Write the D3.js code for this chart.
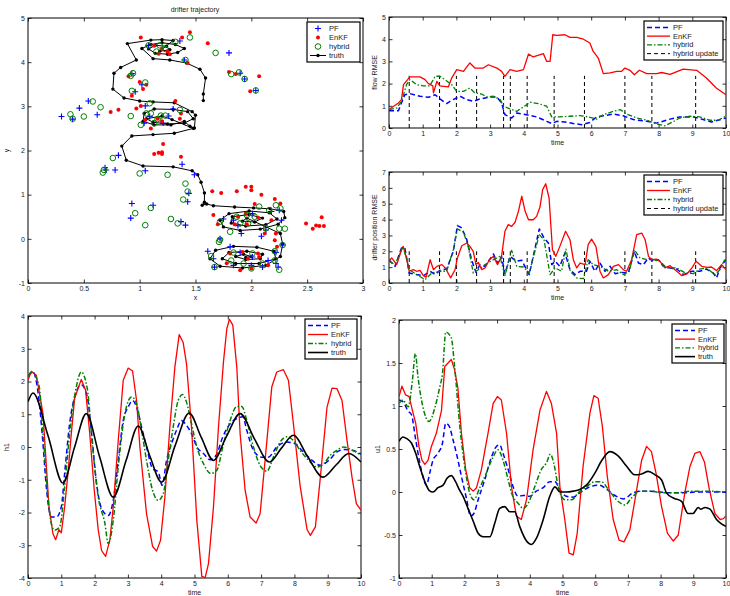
<!DOCTYPE html>
<html>
<head>
<meta charset="utf-8">
<script src="https://cdn.jsdelivr.net/npm/d3@7"></script>
<style>
  body { margin: 0; background: #fff; }
  svg { display: block; }
  text { font-family: "Liberation Sans", Arial, sans-serif; fill: #222; }
</style>
</head>
<body>
<div id="root"></div>
<script>
const width = 730
const height = 596

// ---- drifter trajectory (x, y) ----
const trajTruth = [
  [1.57, 3.13], [1.57, 3.28], [1.59, 3.64], [1.54, 3.84], [1.42, 3.98], [1.27, 4.05], [1.12, 4.08],
  [1.02, 4.31], [1.10, 4.40], [1.20, 4.44], [1.32, 4.40], [1.40, 4.31], [1.34, 4.22], [1.25, 4.18],
  [1.14, 4.20], [1.08, 4.30], [1.14, 4.38], [1.24, 4.36], [1.27, 4.28], [1.18, 4.25], [1.30, 4.49],
  [1.20, 4.51], [1.10, 4.50], [0.89, 4.42], [0.97, 4.05], [0.83, 3.88], [0.77, 3.75], [0.76, 3.39],
  [0.86, 3.19], [1.00, 3.12], [1.12, 3.10], [1.31, 3.08], [1.47, 2.88], [1.50, 2.80], [1.49, 2.51],
  [1.45, 2.55], [1.40, 2.66], [1.28, 2.58], [1.13, 2.58], [1.03, 2.66], [1.04, 2.84], [1.13, 2.94],
  [1.30, 2.93], [1.43, 2.88], [1.48, 2.72], [1.40, 2.62], [1.25, 2.60], [1.12, 2.64], [1.06, 2.72],
  [1.20, 2.78], [1.29, 2.70], [1.48, 2.50], [1.31, 2.39], [1.12, 2.36], [0.93, 2.33], [0.84, 2.10],
  [0.88, 1.78], [1.03, 1.65], [1.30, 1.63], [1.47, 1.54], [1.52, 1.45], [1.55, 1.28], [1.58, 1.04],
  [1.58, 0.83], [1.56, 0.76], [1.60, 0.79], [1.66, 0.75], [1.85, 0.72], [2.02, 0.70], [2.17, 0.68],
  [2.29, 0.62], [2.30, 0.48], [2.24, 0.33], [2.08, 0.22], [1.90, 0.19], [1.75, 0.27], [1.72, 0.42],
  [1.80, 0.57], [1.98, 0.63], [2.16, 0.59], [2.23, 0.45], [2.13, 0.32], [1.95, 0.29], [1.82, 0.36],
  [1.83, 0.50], [1.98, 0.55], [2.10, 0.47], [2.03, 0.38], [1.92, 0.40], [1.96, 0.47], [2.26, 0.12],
  [2.28, -0.12], [2.26, -0.40], [2.13, -0.60], [1.92, -0.66], [1.72, -0.62], [1.63, -0.45], [1.68, -0.26],
  [1.84, -0.17], [2.05, -0.19], [2.20, -0.28], [2.22, -0.45], [2.07, -0.56], [1.86, -0.56], [1.74, -0.45],
  [1.80, -0.31], [1.96, -0.28], [2.10, -0.35], [2.08, -0.45], [1.95, -0.47], [1.86, -0.40], [1.93, -0.35],
  [2.00, -0.40], [1.95, -0.42]
]
const trajPF = [
  [0.30, 2.77], [0.46, 2.96], [0.54, 3.12], [0.40, 2.71], [0.62, 2.81], [0.96, 3.33], [1.02, 3.49],
  [0.93, 3.74], [1.08, 4.38], [1.36, 4.48], [1.80, 4.21], [1.90, 3.75], [1.94, 3.62], [2.04, 3.36],
  [1.40, 4.05], [1.05, 3.01], [1.09, 2.77], [1.21, 2.62], [1.30, 2.94], [1.26, 2.78], [1.04, 2.62],
  [0.81, 1.89], [0.69, 1.61], [0.70, 1.56], [0.78, 1.56], [1.05, 1.54], [1.38, 1.69], [1.49, 1.45],
  [1.44, 1.03], [1.43, 0.84], [0.93, 0.80], [0.92, 0.47], [1.12, 0.76], [1.37, 0.39], [1.41, 0.31],
  [1.72, 0.00], [1.61, -0.28], [1.66, -0.45], [1.67, -0.64], [1.84, -0.60], [2.00, -0.60], [2.10, -0.64],
  [2.22, -0.56], [2.24, -0.64], [2.22, -0.31], [2.28, -0.14], [2.09, 0.06], [2.13, 0.20], [2.27, 0.42],
  [2.25, 0.65], [2.01, 0.57], [1.84, 0.42], [1.91, 0.12], [1.81, -0.18], [2.01, -0.41], [1.90, -0.31],
  [2.15, -0.49], [1.75, 0.45], [2.18, 0.62], [1.88, 0.30]
]
const trajEnKF = [
  [1.01, 4.56], [1.45, 4.68], [1.38, 4.56], [1.61, 4.43], [1.13, 4.37], [1.20, 4.30], [1.25, 4.24],
  [1.27, 4.18], [1.17, 4.19], [1.43, 3.98], [1.80, 3.78], [1.86, 3.73], [2.07, 3.68], [1.99, 3.34],
  [0.90, 3.68], [1.00, 3.55], [1.03, 3.39], [1.06, 3.49], [0.93, 3.24], [1.32, 3.12], [0.74, 2.87],
  [0.81, 2.92], [0.97, 2.95], [1.01, 3.01], [1.05, 2.69], [1.10, 2.50], [1.16, 2.72], [1.20, 2.66],
  [1.37, 2.84], [1.36, 2.72], [1.21, 2.15], [1.13, 1.92], [1.17, 1.95], [1.20, 1.96], [1.20, 1.92],
  [1.37, 1.86], [1.65, 1.08], [1.73, 1.04], [1.87, 1.08], [1.95, 1.18], [2.00, 1.18], [2.00, 1.10],
  [2.09, 1.00], [2.21, 0.90], [2.26, 0.80], [2.03, 0.79], [1.66, 0.54], [1.70, 0.33], [1.85, 0.33],
  [1.96, 0.33], [2.06, 0.48], [2.18, 0.42], [2.49, 0.35], [2.55, 0.23], [2.58, 0.30], [2.61, 0.29],
  [2.63, 0.49], [2.65, 0.29], [1.90, -0.71], [2.00, -0.67], [2.21, -0.03], [2.23, -0.18], [2.06, -0.33],
  [2.07, -0.41], [1.81, -0.33], [1.97, -0.45], [1.88, 0.50], [1.95, 0.57], [2.12, 0.12], [2.22, 0.12],
  [1.78, -0.55], [2.15, -0.60], [1.92, -0.30]
]
const trajHybrid = [
  [0.38, 2.82], [0.40, 2.72], [0.50, 2.77], [0.58, 3.11], [0.65, 2.98], [0.92, 2.78], [0.93, 3.35],
  [0.92, 3.69], [0.94, 3.75], [1.05, 3.54], [1.08, 4.38], [1.18, 4.38], [1.15, 4.24], [1.23, 4.30],
  [1.32, 4.46], [1.45, 4.56], [1.68, 4.21], [1.82, 3.73], [1.89, 3.77], [1.94, 3.62], [2.04, 3.36],
  [1.41, 4.05], [1.09, 3.07], [1.06, 2.84], [1.10, 2.84], [1.01, 2.58], [1.13, 2.62], [1.16, 2.71],
  [1.19, 2.79], [1.23, 2.79], [1.36, 2.92], [0.76, 1.83], [0.68, 1.56], [0.67, 1.50], [1.00, 1.48],
  [1.25, 1.45], [1.41, 1.25], [1.43, 1.07], [1.39, 0.89], [0.96, 0.58], [1.10, 0.70], [1.05, 0.31],
  [1.28, 0.45], [1.34, 0.35], [1.72, -0.02], [1.71, -0.07], [1.64, -0.39], [1.67, -0.64], [1.82, -0.49],
  [1.93, -0.56], [2.00, -0.67], [2.10, -0.56], [2.25, -0.70], [2.21, -0.49], [2.21, -0.28], [2.28, -0.14],
  [2.13, 0.24], [2.25, 0.23], [2.30, 0.23], [2.22, 0.76], [2.26, 0.69], [2.16, 0.65], [2.07, 0.73],
  [1.96, 0.54], [2.03, 0.50], [1.87, 0.50], [1.81, 0.16], [1.72, 0.39], [1.90, 0.35], [1.97, 0.35],
  [1.84, -0.31], [2.01, -0.33]
]

// ---- flow RMSE (time, value) ----
const flowEnKF = [
  [0, 0.83], [0.28, 1.13], [0.37, 1.28], [0.43, 1.95], [0.62, 2.30], [0.92, 2.30], [1.07, 2.18],
  [1.17, 2.0], [1.30, 1.9], [1.32, 1.58], [1.42, 2.1], [1.51, 1.9], [1.76, 1.85], [1.86, 2.25],
  [2.01, 2.63], [2.21, 2.55], [2.40, 2.93], [2.55, 2.70], [2.80, 2.70], [2.95, 2.85], [3.20, 2.70],
  [3.34, 2.55], [3.44, 2.33], [3.59, 2.63], [3.79, 2.55], [3.99, 2.63], [4.14, 3.33], [4.28, 3.20],
  [4.58, 3.35], [4.68, 3.0], [4.78, 3.0], [4.86, 4.20], [4.98, 4.17], [5.22, 4.20], [5.37, 4.08],
  [5.57, 4.08], [5.77, 4.0], [5.96, 3.83], [6.06, 3.45], [6.21, 3.15], [6.36, 2.45], [6.56, 2.48],
  [6.76, 2.55], [6.90, 2.55], [7.0, 2.7], [7.15, 2.6], [7.28, 2.4], [7.43, 2.6], [7.65, 2.45],
  [7.94, 2.45], [8.09, 2.5], [8.34, 2.42], [8.73, 2.65], [9.13, 2.6], [9.42, 2.25], [9.71, 1.8], [10, 1.5]
]
const flowPF = [
  [0, 0.78], [0.28, 0.78], [0.37, 1.13], [0.47, 1.50], [0.62, 1.55], [0.92, 1.43], [1.17, 1.38],
  [1.37, 1.50], [1.51, 1.31], [1.71, 1.10], [1.90, 1.28], [2.11, 1.43], [2.30, 1.28], [2.50, 1.20],
  [2.70, 1.31], [3.0, 1.40], [3.20, 1.40], [3.34, 1.13], [3.44, 0.60], [3.64, 0.45], [3.79, 0.68],
  [4.08, 0.60], [4.38, 0.50], [4.68, 0.30], [4.83, 0.20], [4.98, 0.30], [5.22, 0.27], [5.47, 0.20],
  [5.72, 0.15], [5.96, 0.25], [6.16, 0.50], [6.36, 0.55], [6.66, 0.63], [6.95, 0.55], [7.25, 0.38],
  [7.65, 0.30], [7.94, 0.22], [8.34, 0.40], [8.63, 0.50], [9.03, 0.50], [9.32, 0.38], [9.57, 0.27], [10, 0.45]
]
const flowHybrid = [
  [0, 0.83], [0.23, 0.9], [0.37, 1.2], [0.52, 1.95], [0.62, 2.18], [0.82, 1.95], [1.01, 1.9],
  [1.21, 1.9], [1.37, 2.33], [1.51, 2.33], [1.66, 2.18], [1.86, 1.95], [2.01, 1.65], [2.21, 1.65],
  [2.40, 1.80], [2.55, 1.58], [2.75, 1.53], [2.90, 1.40], [3.10, 1.43], [3.30, 1.28], [3.40, 0.98],
  [3.59, 0.86], [3.79, 0.75], [3.99, 0.95], [4.19, 1.16], [4.43, 1.10], [4.68, 0.98], [4.83, 0.50],
  [5.07, 0.50], [5.37, 0.53], [5.67, 0.56], [5.91, 0.50], [6.16, 0.40], [6.36, 0.60], [6.66, 0.75],
  [6.86, 0.83], [7.05, 0.63], [7.35, 0.45], [7.65, 0.35], [7.94, 0.18], [8.19, 0.10], [8.39, 0.25],
  [8.63, 0.45], [8.93, 0.53], [9.22, 0.50], [9.52, 0.35], [9.76, 0.35], [10, 0.53]
]
const updateTimes = [0.6, 1.5, 2.0, 2.6, 3.4, 3.6, 4.1, 4.9, 5.8, 7.0, 7.8, 9.1]
const updateTopFlow = 2.35
const updateTopDrift = 2.0

// ---- drifter position RMSE ----
const driftEnKF = [
  [0, 1.37], [0.08, 1.58], [0.23, 1.16], [0.37, 2.10], [0.42, 2.31], [0.52, 1.58], [0.60, 0.74],
  [0.72, 0.84], [0.82, 0.74], [0.92, 0.80], [1.02, 0.46], [1.10, 0.36], [1.22, 1.47], [1.32, 0.84],
  [1.42, 1.05], [1.57, 1.16], [1.67, 0.95], [1.83, 0.32], [1.96, 0.84], [2.03, 1.58], [2.16, 2.35],
  [2.31, 2.52], [2.40, 2.31], [2.50, 2.0], [2.58, 1.16], [2.65, 1.30], [2.75, 0.84], [2.85, 0.95],
  [2.98, 1.47], [3.10, 1.68], [3.22, 1.16], [3.34, 1.68], [3.44, 3.26], [3.54, 3.68], [3.64, 3.57],
  [3.74, 3.83], [3.84, 4.52], [3.94, 5.47], [4.04, 4.52], [4.14, 3.99], [4.28, 3.99], [4.38, 4.20],
  [4.48, 4.79], [4.56, 5.89], [4.65, 6.26], [4.75, 5.36], [4.85, 2.10], [4.95, 1.68], [5.07, 2.31],
  [5.24, 3.26], [5.37, 2.73], [5.47, 1.47], [5.57, 0.95], [5.67, 1.26], [5.82, 1.16], [5.91, 2.42],
  [6.01, 2.77], [6.14, 2.31], [6.26, 0.74], [6.36, 0.32], [6.51, 0.53], [6.66, 1.05], [6.81, 1.16],
  [6.95, 0.84], [7.05, 0.74], [7.20, 1.47], [7.35, 3.05], [7.50, 3.15], [7.60, 2.73], [7.70, 1.68],
  [7.80, 1.47], [7.94, 1.51], [8.04, 1.37], [8.19, 0.95], [8.34, 1.09], [8.54, 0.74], [8.69, 0.46],
  [8.84, 0.57], [8.99, 0.95], [9.11, 1.37], [9.28, 1.05], [9.45, 0.99], [9.57, 1.01], [9.72, 0.78],
  [9.87, 1.16], [10, 0.84]
]
const driftPF = [
  [0, 1.47], [0.18, 1.05], [0.37, 2.21], [0.47, 2.21], [0.60, 0.63], [0.82, 0.53], [1.02, 0.46],
  [1.22, 0.74], [1.37, 0.53], [1.51, 0.80], [1.71, 0.88], [1.91, 2.0], [2.03, 3.62], [2.16, 3.47],
  [2.31, 2.73], [2.45, 1.47], [2.58, 0.67], [2.70, 1.16], [2.85, 1.05], [3.10, 1.83], [3.22, 1.26],
  [3.34, 1.68], [3.44, 0.57], [3.59, 1.68], [3.79, 1.37], [3.94, 1.43], [4.08, 0.84], [4.16, 0.53],
  [4.28, 1.68], [4.46, 3.41], [4.60, 2.84], [4.73, 2.52], [4.83, 1.16], [4.93, 1.37], [5.07, 1.05],
  [5.22, 1.89], [5.37, 0.84], [5.52, 0.53], [5.67, 0.74], [5.86, 0.74], [5.96, 1.37], [6.11, 0.74],
  [6.26, 1.26], [6.41, 0.74], [6.56, 1.05], [6.71, 0.59], [6.90, 0.67], [7.10, 0.63], [7.28, 2.0],
  [7.40, 1.26], [7.55, 1.16], [7.70, 1.58], [7.84, 1.37], [7.99, 1.47], [8.14, 1.05], [8.34, 0.95],
  [8.54, 0.88], [8.74, 0.53], [8.99, 0.74], [9.22, 0.74], [9.42, 0.88], [9.62, 0.63], [9.72, 0.32],
  [9.82, 0.95], [10, 1.47]
]
const driftHybrid = [
  [0, 1.37], [0.18, 1.16], [0.42, 2.31], [0.60, 0.84], [0.82, 0.53], [1.07, 0.21], [1.27, 0.63],
  [1.51, 0.74], [1.71, 0.74], [1.91, 2.10], [2.03, 3.41], [2.21, 3.20], [2.35, 2.31], [2.50, 0.63],
  [2.65, 0.84], [2.85, 1.16], [3.10, 1.47], [3.29, 1.68], [3.44, 0.46], [3.64, 2.06], [3.79, 1.05],
  [3.99, 1.01], [4.16, 0.63], [4.33, 2.0], [4.46, 3.05], [4.60, 2.73], [4.78, 0.53], [4.93, 0.95],
  [5.12, 0.74], [5.25, 2.14], [5.38, 0.74], [5.57, 0.32], [5.77, 0.27], [5.91, 1.47], [6.06, 1.16],
  [6.26, 1.05], [6.51, 0.74], [6.76, 0.84], [6.95, 0.53], [7.13, 0.74], [7.28, 2.10], [7.45, 1.58],
  [7.65, 1.47], [7.84, 1.47], [8.04, 1.37], [8.24, 0.95], [8.54, 0.95], [8.79, 0.63], [9.03, 0.59],
  [9.22, 0.88], [9.42, 0.95], [9.67, 0.53], [9.82, 0.84], [9.97, 1.51], [10, 1.26]
]

// ---- h1 ----
const h1Truth = [
  [0, 1.38], [0.15, 1.65], [0.6, 0.35], [1.05, -1.10], [1.4, 0.0], [1.75, 1.02], [2.15, -0.3],
  [2.56, -1.53], [2.95, -0.4], [3.31, 0.64], [3.65, -0.25], [4.01, -1.07], [4.42, 0.05], [4.84, 1.04],
  [5.2, 0.3], [5.57, -0.41], [5.95, 0.3], [6.37, 1.02], [6.8, 0.25], [7.25, -0.46], [7.6, -0.05],
  [7.97, 0.36], [8.4, -0.3], [8.86, -0.92], [9.25, -0.55], [9.63, -0.20], [10, -0.46]
]
const h1EnKF = [
  [0, 2.04], [0.1, 2.31], [0.25, 2.19], [0.45, 1.02], [0.63, -1.83], [0.75, -2.65], [0.83, -2.83],
  [0.93, -2.52], [1.0, -2.62], [1.10, -1.83], [1.20, -0.81], [1.30, 0.41], [1.40, 1.48], [1.56, 1.95],
  [1.60, 2.06], [1.73, 1.73], [1.85, 0.46], [1.99, -1.32], [2.11, -2.54], [2.21, -3.16], [2.33, -3.34],
  [2.46, -2.83], [2.56, -1.83], [2.71, 0.2], [2.86, 2.04], [3.01, 2.41], [3.14, 2.32], [3.26, 1.42],
  [3.36, 0.0], [3.56, -2.04], [3.74, -3.03], [3.86, -3.18], [3.98, -2.85], [4.11, -1.53], [4.26, 0.61],
  [4.41, 2.44], [4.54, 3.43], [4.66, 3.19], [4.76, 2.54], [4.91, 0.61], [5.07, -2.24], [5.22, -3.95],
  [5.32, -3.99], [5.42, -3.56], [5.57, -1.83], [5.72, 0.61], [5.87, 2.60], [5.97, 3.61], [6.05, 3.90],
  [6.15, 3.72], [6.27, 2.44], [6.37, 0.41], [6.52, -1.32], [6.67, -2.14], [6.85, -2.32], [6.97, -2.04],
  [7.12, -0.41], [7.32, 1.83], [7.47, 2.29], [7.67, 2.36], [7.82, 2.04], [7.97, 0.71], [8.17, -1.17],
  [8.38, -2.52], [8.48, -2.70], [8.63, -2.44], [8.78, -0.92], [8.98, 1.22], [9.13, 1.80], [9.28, 1.78],
  [9.43, 1.42], [9.58, 0.20], [9.73, -0.92], [9.86, -1.73], [10, -1.93]
]
const h1PF = [
  [0, 2.16], [0.15, 2.29], [0.30, 1.68], [0.45, 0.10], [0.55, -1.22], [0.70, -2.14], [0.85, -2.14],
  [1.0, -1.83], [1.10, -0.81], [1.25, 0.71], [1.43, 1.63], [1.60, 1.90], [1.78, 1.53], [1.91, 0.41],
  [2.06, -1.12], [2.21, -1.88], [2.41, -2.09], [2.56, -1.63], [2.71, -0.41], [2.86, 0.81], [3.01, 1.22],
  [3.14, 1.42], [3.26, 1.22], [3.41, 0.61], [3.56, 0.0], [3.74, -0.66], [3.91, -0.76], [4.03, -1.17],
  [4.16, -0.41], [4.31, 0.10], [4.46, 0.51], [4.61, 0.81], [4.76, 0.66], [4.91, 0.41], [5.07, 0.0],
  [5.27, -0.20], [5.47, -0.39], [5.65, -0.25], [5.85, 0.31], [6.07, 0.71], [6.27, 0.87], [6.45, 0.92],
  [6.57, 0.51], [6.77, -0.10], [7.02, -0.31], [7.22, -0.31], [7.47, 0.0], [7.77, 0.15], [8.02, 0.10],
  [8.22, -0.10], [8.48, -0.36], [8.78, -0.56], [9.03, -0.41], [9.28, -0.15], [9.48, -0.08], [9.73, -0.10],
  [10, -0.22]
]
const h1Hybrid = [
  [0, 2.16], [0.1, 2.29], [0.33, 1.88], [0.45, 0.41], [0.60, -1.53], [0.70, -2.34], [0.80, -2.54],
  [0.95, -2.44], [1.10, -1.22], [1.25, 0.41], [1.43, 1.73], [1.60, 2.29], [1.78, 1.78], [1.94, 0.0],
  [2.11, -1.53], [2.31, -2.34], [2.41, -2.95], [2.56, -2.24], [2.71, -0.61], [2.91, 1.02], [3.11, 1.53],
  [3.26, 1.32], [3.41, 0.51], [3.56, -0.41], [3.74, -1.32], [3.91, -1.63], [4.06, -1.43], [4.21, -0.41],
  [4.36, 0.61], [4.51, 1.42], [4.64, 1.60], [4.76, 1.37], [4.91, 0.71], [5.07, 0.0], [5.27, -0.51],
  [5.49, -0.81], [5.67, -0.71], [5.85, 0.0], [6.07, 0.81], [6.27, 1.24], [6.42, 1.24], [6.57, 0.81],
  [6.77, 0.0], [6.97, -0.56], [7.17, -0.74], [7.37, -0.31], [7.57, 0.15], [7.77, 0.31], [7.97, 0.20],
  [8.17, -0.10], [8.43, -0.41], [8.68, -0.61], [8.88, -0.51], [9.08, -0.25], [9.28, -0.10], [9.48, 0.0],
  [9.68, -0.07], [10, -0.25]
]

// ---- u1 ----
const u1EnKF = [
  [0, 1.11], [0.09, 1.23], [0.20, 1.13], [0.31, 1.11], [0.41, 0.95], [0.51, 0.80], [0.61, 0.53],
  [0.70, 0.37], [0.79, 0.32], [0.89, 0.37], [0.99, 0.53], [1.14, 0.68], [1.30, 0.95], [1.40, 1.46],
  [1.50, 1.50], [1.60, 1.54], [1.70, 1.42], [1.80, 1.21], [1.91, 0.68], [2.04, 0.26], [2.16, 0.05],
  [2.27, 0.01], [2.37, 0.05], [2.52, 0.26], [2.72, 0.68], [2.88, 1.03], [3.01, 1.11], [3.13, 1.07],
  [3.29, 0.68], [3.44, 0.06], [3.59, -0.28], [3.74, -0.32], [3.90, -0.09], [4.10, 0.49], [4.31, 0.95],
  [4.51, 1.17], [4.66, 1.03], [4.82, 0.68], [4.92, 0.06], [5.07, -0.32], [5.20, -0.71], [5.33, -0.73],
  [5.45, -0.48], [5.63, 0.30], [5.84, 0.92], [5.96, 1.12], [6.09, 1.09], [6.22, 0.76], [6.37, 0.18],
  [6.55, -0.32], [6.73, -0.56], [6.88, -0.58], [7.06, -0.44], [7.27, 0.03], [7.42, 0.37], [7.57, 0.53],
  [7.72, 0.47], [7.86, 0.22], [8.03, -0.17], [8.21, -0.48], [8.39, -0.57], [8.54, -0.50], [8.74, -0.01],
  [8.90, 0.30], [9.05, 0.45], [9.20, 0.47], [9.34, 0.35], [9.49, 0.03], [9.66, -0.25], [9.82, -0.32],
  [9.92, -0.31], [10, -0.28]
]
const u1PF = [
  [0, 1.07], [0.12, 1.05], [0.28, 0.94], [0.38, 0.90], [0.51, 0.61], [0.68, 0.26], [0.84, 0.08],
  [0.94, 0.22], [1.04, 0.37], [1.19, 0.45], [1.33, 0.57], [1.43, 0.80], [1.53, 0.77], [1.65, 0.61],
  [1.78, 0.41], [1.91, 0.18], [2.06, -0.07], [2.19, -0.28], [2.29, -0.25], [2.42, -0.09], [2.62, 0.14],
  [2.83, 0.41], [2.98, 0.53], [3.08, 0.55], [3.18, 0.45], [3.34, 0.26], [3.49, 0.06], [3.64, -0.05],
  [3.80, -0.04], [4.00, -0.05], [4.20, 0.01], [4.41, 0.05], [4.61, 0.12], [4.77, 0.12], [4.92, 0.03],
  [5.12, -0.05], [5.33, -0.06], [5.53, -0.01], [5.84, 0.06], [6.14, 0.08], [6.35, 0.03], [6.65, -0.05],
  [6.86, -0.08], [7.16, -0.01], [7.37, 0.01], [7.67, 0.01], [7.98, 0.0], [8.29, -0.01], [8.69, -0.01],
  [9.10, 0.0], [9.51, 0.0], [10, 0.0]
]
const u1Hybrid = [
  [0, 1.03], [0.12, 1.07], [0.28, 0.99], [0.41, 1.30], [0.50, 1.61], [0.58, 1.34], [0.73, 0.99],
  [0.92, 0.82], [1.09, 0.97], [1.24, 1.21], [1.33, 1.38], [1.43, 1.86], [1.60, 1.79], [1.70, 1.46],
  [1.86, 0.76], [2.01, 0.30], [2.16, -0.01], [2.29, -0.09], [2.47, 0.05], [2.67, 0.22], [2.88, 0.41],
  [3.03, 0.49], [3.18, 0.37], [3.34, 0.14], [3.44, -0.01], [3.64, -0.13], [3.80, -0.19], [3.95, -0.13],
  [4.15, 0.06], [4.35, 0.26], [4.51, 0.34], [4.63, 0.44], [4.73, 0.34], [4.87, 0.06], [5.07, -0.09],
  [5.28, -0.09], [5.48, -0.01], [5.73, 0.06], [5.99, 0.12], [6.19, 0.12], [6.40, 0.03], [6.65, -0.09],
  [6.91, -0.15], [7.11, -0.07], [7.37, 0.01], [7.67, 0.01], [8.08, -0.01], [8.49, -0.01], [8.90, 0.01],
  [9.31, 0.01], [10, 0.0]
]
const u1Truth = [
  [0, 0.59], [0.12, 0.64], [0.24, 0.62], [0.38, 0.57], [0.51, 0.45], [0.63, 0.30], [0.79, 0.12],
  [0.92, 0.02], [1.04, 0.0], [1.19, 0.05], [1.35, 0.08], [1.47, 0.16], [1.60, 0.19], [1.73, 0.12],
  [1.84, 0.03], [1.96, -0.05], [2.11, -0.19], [2.27, -0.34], [2.42, -0.48], [2.57, -0.52], [2.78, -0.52],
  [2.93, -0.36], [3.08, -0.19], [3.23, -0.17], [3.39, -0.23], [3.54, -0.23], [3.69, -0.40], [3.90, -0.57],
  [4.05, -0.61], [4.20, -0.54], [4.41, -0.32], [4.61, -0.05], [4.77, 0.06], [4.92, 0.0], [5.12, 0.0],
  [5.33, 0.01], [5.53, 0.03], [5.73, 0.08], [5.99, 0.22], [6.19, 0.36], [6.45, 0.47], [6.70, 0.42],
  [6.96, 0.30], [7.21, 0.20], [7.42, 0.21], [7.62, 0.24], [7.83, 0.20], [8.03, 0.14], [8.18, -0.01],
  [8.39, -0.07], [8.64, -0.11], [8.84, -0.25], [8.99, -0.25], [9.15, -0.18], [9.22, -0.20], [9.36, -0.18],
  [9.51, -0.20], [9.71, -0.32], [9.86, -0.37], [10, -0.40]
]

const timeTicks = [0, 1, 2, 3, 4, 5, 6, 7, 8, 9, 10]

const blue = '#0000ff'
const red = '#ff0000'
const green = '#008000'
const dashPF = '5,3'
const dashHybrid = '5,2,1.5,2'
const fontSize = 7

const svg = d3.select('#root').append('svg').attr('width', width).attr('height', height)
let clipId = 0

function axes(box, xDom, yDom, xTicks, yTicks) {
  const x = d3.scaleLinear().domain(xDom).range([box.l, box.r])
  const y = d3.scaleLinear().domain(yDom).range([box.b, box.t])
  const g = svg.append('g')
  const fmt = (d) => String(d)
  const tk = 3.5

  const id = 'clip' + clipId++
  svg.append('clipPath').attr('id', id)
    .append('rect').attr('x', box.l).attr('y', box.t).attr('width', box.r - box.l).attr('height', box.b - box.t)

  const styleAxis = (sel) => {
    sel.select('.domain').remove()
    sel.selectAll('line').attr('stroke', '#000').attr('stroke-width', 0.8)
    sel.selectAll('text').attr('font-size', fontSize).attr('fill', '#222')
  }
  g.append('g').attr('transform', `translate(0,${box.b})`)
    .call(d3.axisBottom(x).tickValues(xTicks).tickFormat(fmt).tickSizeInner(-tk).tickSizeOuter(0).tickPadding(3))
    .call(styleAxis)
  g.append('g').attr('transform', `translate(0,${box.t})`)
    .call(d3.axisTop(x).tickValues(xTicks).tickFormat('').tickSizeInner(-tk).tickSizeOuter(0))
    .call(styleAxis)
  g.append('g').attr('transform', `translate(${box.l},0)`)
    .call(d3.axisLeft(y).tickValues(yTicks).tickFormat(fmt).tickSizeInner(-tk).tickSizeOuter(0).tickPadding(3))
    .call(styleAxis)
  g.append('g').attr('transform', `translate(${box.r},0)`)
    .call(d3.axisRight(y).tickValues(yTicks).tickFormat('').tickSizeInner(-tk).tickSizeOuter(0))
    .call(styleAxis)
  g.append('rect').attr('x', box.l).attr('y', box.t)
    .attr('width', box.r - box.l).attr('height', box.b - box.t)
    .attr('fill', 'none').attr('stroke', '#000').attr('stroke-width', 1)

  const plot = svg.append('g').attr('clip-path', `url(#${id})`)
  return { x, y, g, plot, box }
}

function addLine(ax, data, color, dash, w, curve) {
  const line = d3.line().x((d) => ax.x(d[0])).y((d) => ax.y(d[1])).curve(curve || d3.curveLinear)
  ax.plot.append('path').datum(data)
    .attr('d', line)
    .attr('fill', 'none')
    .attr('stroke', color)
    .attr('stroke-width', w)
    .attr('stroke-dasharray', dash)
    .attr('stroke-linejoin', 'round')
}

// axis titles sit 17px below the bottom edge, like the matlab figure
function labels(ax, xl, yl, ylX) {
  const b = ax.box
  svg.append('text').attr('x', (b.l + b.r) / 2).attr('y', b.b + 17)
    .attr('text-anchor', 'middle').attr('font-size', fontSize).text(xl)
  svg.append('text').attr('transform', `translate(${ylX},${(b.t + b.b) / 2}) rotate(-90)`)
    .attr('text-anchor', 'middle').attr('font-size', fontSize).text(yl)
}

function marker(g, kind, cx, cy) {
  if (kind === 'plus') {
    g.append('path').attr('d', `M${cx - 3},${cy}H${cx + 3}M${cx},${cy - 3}V${cy + 3}`)
      .attr('stroke', blue).attr('stroke-width', 1.1).attr('fill', 'none')
  } else if (kind === 'dot') {
    g.append('circle').attr('cx', cx).attr('cy', cy).attr('r', 2).attr('fill', red)
  } else if (kind === 'circle') {
    g.append('circle').attr('cx', cx).attr('cy', cy).attr('r', 2.8)
      .attr('fill', 'none').attr('stroke', green).attr('stroke-width', 1)
  } else if (kind === 'truth') {
    g.append('circle').attr('cx', cx).attr('cy', cy).attr('r', 1.7).attr('fill', '#000')
  }
}

function legend(lx, ly, lw, lh, items, sampleW) {
  const g = svg.append('g')
  g.append('rect').attr('x', lx).attr('y', ly).attr('width', lw).attr('height', lh)
    .attr('fill', '#fff').attr('stroke', '#000').attr('stroke-width', 1.2)
  const step = (lh - 4) / items.length
  items.forEach((it, i) => {
    const cy = ly + 2 + step * (i + 0.5)
    if (it.line) {
      g.append('line').attr('x1', lx + 3).attr('x2', lx + 3 + sampleW).attr('y1', cy).attr('y2', cy)
        .attr('stroke', it.color).attr('stroke-width', it.w || 1.3).attr('stroke-dasharray', it.dash)
    }
    if (it.marker) marker(g, it.marker, lx + 3 + sampleW / 2, cy)
    g.append('text').attr('x', lx + 6 + sampleW).attr('y', cy + 2.5)
      .attr('font-size', 7.5).text(it.label)
  })
}

// ---------- panel 1: drifter trajectory ----------
const a1 = axes({ l: 28, r: 363, t: 18, b: 283 }, [0, 3], [-1, 5],
  [0, 0.5, 1, 1.5, 2, 2.5, 3], [-1, 0, 1, 2, 3, 4, 5])
addLine(a1, trajTruth, '#000', null, 1)
trajTruth.forEach((d) => marker(a1.plot, 'truth', a1.x(d[0]), a1.y(d[1])))
trajPF.forEach((d) => marker(a1.plot, 'plus', a1.x(d[0]), a1.y(d[1])))
trajEnKF.forEach((d) => marker(a1.plot, 'dot', a1.x(d[0]), a1.y(d[1])))
trajHybrid.forEach((d) => marker(a1.plot, 'circle', a1.x(d[0]), a1.y(d[1])))
labels(a1, 'x', 'y', 9)
svg.append('text').attr('x', 195).attr('y', 12).attr('text-anchor', 'middle')
  .attr('font-size', 7).text('drifter trajectory')
legend(307, 22, 53, 40, [
  { label: 'PF', marker: 'plus' },
  { label: 'EnKF', marker: 'dot' },
  { label: 'hybrid', marker: 'circle' },
  { label: 'truth', line: true, color: '#000', marker: 'truth', w: 1 }
], 16)

// ---------- panel 2: flow RMSE ----------
const a2 = axes({ l: 389, r: 726, t: 17, b: 128 }, [0, 10], [0, 5], timeTicks, [0, 1, 2, 3, 4, 5])
updateTimes.forEach((t) => addLine(a2, [[t, 0], [t, updateTopFlow]], '#000', '4,3', 1))
addLine(a2, flowPF, blue, dashPF, 1.5)
addLine(a2, flowEnKF, red, null, 1.3)
addLine(a2, flowHybrid, green, dashHybrid, 1.3)
labels(a2, 'time', 'flow RMSE', 377)
legend(644, 21, 79, 39, [
  { label: 'PF', line: true, color: blue, dash: dashPF, w: 1.5 },
  { label: 'EnKF', line: true, color: red },
  { label: 'hybrid', line: true, color: green, dash: dashHybrid },
  { label: 'hybrid update', line: true, color: '#000', dash: '4,3', w: 1 }
], 23)

// ---------- panel 3: drifter position RMSE ----------
const a3 = axes({ l: 389, r: 726, t: 172, b: 283 }, [0, 10], [0, 7], timeTicks, [0, 1, 2, 3, 4, 5, 6, 7])
updateTimes.forEach((t) => addLine(a3, [[t, 0], [t, updateTopDrift]], '#000', '4,3', 1))
addLine(a3, driftPF, blue, dashPF, 1.5)
addLine(a3, driftEnKF, red, null, 1.3)
addLine(a3, driftHybrid, green, dashHybrid, 1.3)
labels(a3, 'time', 'drifter position RMSE', 377)
legend(644, 175, 79, 40, [
  { label: 'PF', line: true, color: blue, dash: dashPF, w: 1.5 },
  { label: 'EnKF', line: true, color: red },
  { label: 'hybrid', line: true, color: green, dash: dashHybrid },
  { label: 'hybrid update', line: true, color: '#000', dash: '4,3', w: 1 }
], 23)

// ---------- panel 4: h1 ----------
const a4 = axes({ l: 28, r: 361, t: 316, b: 578 }, [0, 10], [-4, 4], timeTicks, [-4, -3, -2, -1, 0, 1, 2, 3, 4])
addLine(a4, h1PF, blue, dashPF, 1.5, d3.curveMonotoneX)
addLine(a4, h1EnKF, red, null, 1.3)
addLine(a4, h1Hybrid, green, dashHybrid, 1.5, d3.curveMonotoneX)
addLine(a4, h1Truth, '#000', null, 1.6, d3.curveMonotoneX)
labels(a4, 'time', 'h1', 9)
legend(305, 319, 52, 40, [
  { label: 'PF', line: true, color: blue, dash: dashPF, w: 1.5 },
  { label: 'EnKF', line: true, color: red },
  { label: 'hybrid', line: true, color: green, dash: dashHybrid },
  { label: 'truth', line: true, color: '#000', w: 1.6 }
], 20)

// ---------- panel 5: u1 ----------
const a5 = axes({ l: 399, r: 726, t: 320, b: 578 }, [0, 10], [-1, 2], timeTicks, [-1, -0.5, 0, 0.5, 1, 1.5, 2])
addLine(a5, u1PF, blue, dashPF, 1.5, d3.curveMonotoneX)
addLine(a5, u1EnKF, red, null, 1.3)
addLine(a5, u1Hybrid, green, dashHybrid, 1.5, d3.curveMonotoneX)
addLine(a5, u1Truth, '#000', null, 1.6, d3.curveMonotoneX)
labels(a5, 'time', 'u1', 380)
legend(672, 324, 52, 39, [
  { label: 'PF', line: true, color: blue, dash: dashPF, w: 1.5 },
  { label: 'EnKF', line: true, color: red },
  { label: 'hybrid', line: true, color: green, dash: dashHybrid },
  { label: 'truth', line: true, color: '#000', w: 1.6 }
], 20)
</script>
</body>
</html>
